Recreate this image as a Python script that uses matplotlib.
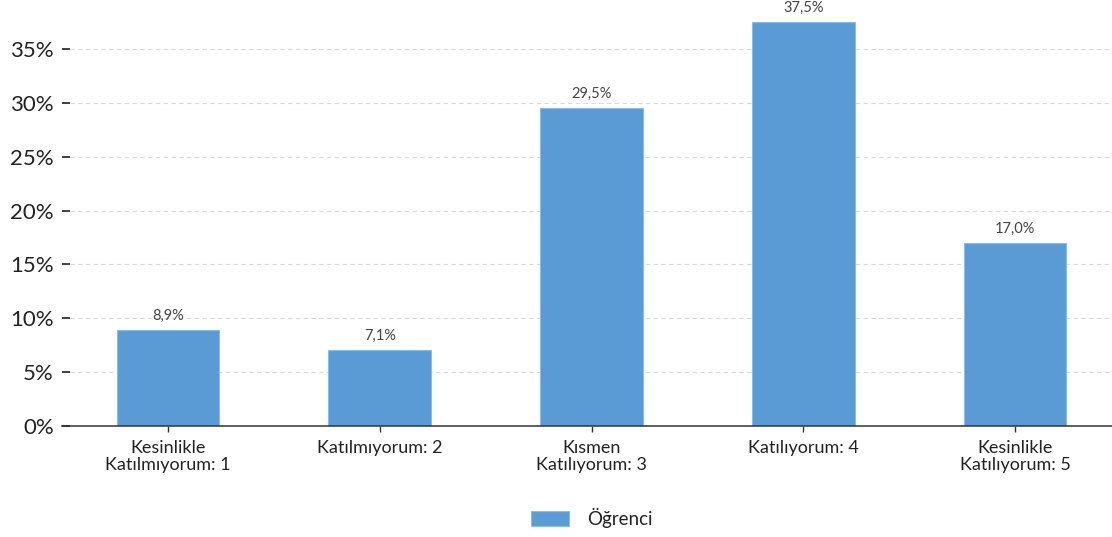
import matplotlib.pyplot as plt
from matplotlib.ticker import FuncFormatter

# data
categories = ['Kesinlikle\nKatılmıyorum: 1', 'Katılmıyorum: 2', 'Kısmen\nKatılıyorum: 3',
              'Katılıyorum: 4', 'Kesinlikle\nKatılıyorum: 5']
values = [8.9, 7.1, 29.5, 37.5, 17.0]
series_name = 'Öğrenci'
yticks = [0, 5, 10, 15, 20, 25, 30, 35]

plt.rcParams['font.family'] = ['Lato', 'DejaVu Sans']

fig = plt.figure(figsize=(11.12, 5.37), dpi=100)
ax = fig.add_axes([62/1112, 111/537, (1121-62)/1112, 426/537])

x = range(len(categories))
bars = ax.bar(x, values, width=0.485, color='#5b9bd5', edgecolor='#8cbbe6', linewidth=0.8,
              label=series_name, zorder=3)
ax.bar_label(bars, labels=[f'{v:.1f}%'.replace('.', ',') for v in values],
             padding=5, fontsize=10.5, color='#444444')

ax.set_xlim(-0.5, 4.5)
ax.set_ylim(0, 39.55)
ax.set_yticks(yticks)
ax.yaxis.set_major_formatter(FuncFormatter(lambda v, p: f'{v:.0f}%'))
ax.set_xticks(list(x))
ax.set_xticklabels(categories, fontsize=13, color='#222222', linespacing=1.1)

ax.grid(axis='y', linestyle=(0, (4, 3)), color='#dadada', linewidth=0.8, zorder=0)
for s in ['top', 'right', 'left']:
    ax.spines[s].set_visible(False)
ax.spines['bottom'].set_color('#333333')
ax.spines['bottom'].set_linewidth(1.1)
ax.spines['bottom'].set_zorder(4)

ax.tick_params(axis='y', direction='in', length=6, width=1.2, color='#222222',
               labelsize=16, labelcolor='#222222', pad=6)
ax.tick_params(axis='x', direction='out', length=4, width=1, color='#333333', pad=6)

fig.legend(loc='center', bbox_to_anchor=(592/1112, 1 - 518/537), frameon=False,
           fontsize=13.5, handlelength=2.0, handleheight=0.8, handletextpad=1.0,
           labelcolor='#222222')

fig.savefig('out.png', dpi=100)
